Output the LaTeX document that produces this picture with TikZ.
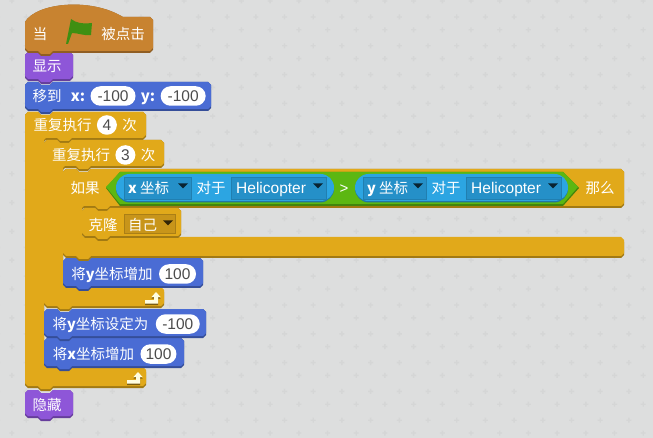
\documentclass[tikz,border=0pt]{standalone}
\usepackage{fontspec}
\setmainfont{Noto Sans CJK SC}
\newfontfamily\latinfont{Liberation Sans}
\usepackage{xcolor}
\usetikzlibrary{positioning, shapes.misc, shapes.geometric}

\definecolor{pagegray}{HTML}{DDDEDE}
\definecolor{plusgray}{HTML}{D5D6D6}
\definecolor{hatorange}{HTML}{C88330}
\definecolor{looksviolet}{HTML}{8E56D8}
\definecolor{motionblue}{HTML}{4A6CD4}
\definecolor{ctrlyellow}{HTML}{E1A91A}
\definecolor{opgreen}{HTML}{5CB712}
\definecolor{sensecyan}{HTML}{2CA5E2}
\definecolor{sensemenu}{HTML}{2590C8}
\definecolor{ctrlmenu}{HTML}{C8951A}
\definecolor{flaggreen}{HTML}{3F8F12}

% stack block: x1, y1, x2, y2, colour
\newcommand{\stackblock}[5]{
  \def\blockpath##1{(#1,#2+3) -- (#1+3,#2) -- (#1+13,#2) -- (#1+16,#2+3) -- (#1+25,#2+3) -- (#1+28,#2)
    -- (#3-3,#2) -- (#3,#2+3) -- (#3,#4-3+##1) -- (#3-3,#4+##1) -- (#1+28,#4+##1) -- (#1+25,#4+3+##1) -- (#1+16,#4+3+##1)
    -- (#1+13,#4+##1) -- (#1+3,#4+##1) -- (#1,#4-3+##1) -- cycle}
  \fill[#5!72!black] \blockpath{0};
  \fill[#5] \blockpath{-2};
}
% loop block: x1, y1, x2, head bottom, cap top, y3
\newcommand{\loopblock}[6]{
  \def\looppath##1{(#1,#2+3) -- (#1+3,#2) -- (#1+13,#2) -- (#1+16,#2+3) -- (#1+25,#2+3) -- (#1+28,#2)
    -- (#3-3,#2) -- (#3,#2+3) -- (#3,#4-3+##1) -- (#3-3,#4+##1) -- (#1+47,#4+##1) -- (#1+44,#4+3+##1) -- (#1+35,#4+3+##1)
    -- (#1+32,#4+##1) -- (#1+21,#4+##1) -- (#1+19,#4+2+##1) -- (#1+19,#5-2+##1) -- (#1+21,#5+##1)
    -- (#3-3,#5+##1) -- (#3,#5+3+##1) -- (#3,#6-3+##1) -- (#3-3,#6+##1) -- (#1+28,#6+##1) -- (#1+25,#6+3+##1) -- (#1+16,#6+3+##1)
    -- (#1+13,#6+##1) -- (#1+3,#6+##1) -- (#1,#6-3+##1) -- cycle}
  \fill[ctrlyellow!72!black] \looppath{0};
  \fill[ctrlyellow] \looppath{-2};
}
% return arrow of a loop: shaft x, line y
\newcommand{\looparrow}[2]{
  \fill[ctrlyellow!55!black] (#1-11,#2-0.5) -- (#1-2,#2-0.5) -- (#1-2,#2-3.5) -- (#1-4.5,#2-3.5) -- (#1,#2-8.5) -- (#1+4.5,#2-3.5) -- (#1+2,#2-3.5) -- (#1+2,#2+3) -- (#1-11,#2+3) -- cycle;
  \fill[yellow!12!white] (#1-11,#2-2) -- (#1-2,#2-2) -- (#1-2,#2-5) -- (#1-4.5,#2-5) -- (#1,#2-10) -- (#1+4.5,#2-5) -- (#1+2,#2-5) -- (#1+2,#2+1.5) -- (#1-11,#2+1.5) -- cycle;
}

\tikzset{
  lbl/.style={inner sep=0pt, text=white, font=\fontsize{14.5}{15}\selectfont, text height=12pt, text depth=1pt, anchor=center},
  axis/.style={lbl, font=\fontsize{15}{15}\selectfont\bfseries},
  pill/.style={rounded rectangle, fill=white, inner sep=0pt, minimum height=19.5pt, text=black!70, text height=11pt, text depth=0pt, font=\fontsize{15.5}{15}\latinfont},
  menu/.style={inner sep=0pt, minimum height=22pt, fill=sensemenu, draw=sensemenu!88!black, line width=0.8pt},
  tip/.style={isosceles triangle, isosceles triangle apex angle=90, shape border rotate=-90, fill=#1, inner sep=0pt, minimum size=6pt, minimum height=5pt}
}

\begin{document}
\begin{tikzpicture}[x=1pt, y=-1pt]

\useasboundingbox (0,0) rectangle (653,438);
\fill[pagegray] (0,0) rectangle (653,438);
\foreach \col in {0,...,23}
  \foreach \row in {0,...,15} {
    \fill[plusgray] (-2.5+\col*28.7-2.5,17+\row*28.8-0.7) rectangle ++(5,1.4) (-2.5+\col*28.7-0.7,17+\row*28.8-2.5) rectangle ++(1.4,5);
    \fill[plusgray] (11.8+\col*28.7-2.5,1+\row*28.8-0.7) rectangle ++(5,1.4) (11.8+\col*28.7-0.7,1+\row*28.8-2.5) rectangle ++(1.4,5);
  }

% blocks, lowest first
\stackblock{25}{390}{73}{418}{looksviolet}
\loopblock{25}{112}{146}{140}{369}{388}
\stackblock{44}{338}{184}{368}{motionblue}
\stackblock{44}{309}{206}{338}{motionblue}
\loopblock{44}{140}{164}{168}{289}{308}
\stackblock{63}{258}{203}{288}{motionblue}
\loopblock{63}{169}{624}{208}{239}{258}
\stackblock{82}{208}{181}{238}{ctrlyellow}
\stackblock{25}{82}{211}{111}{motionblue}
\stackblock{25}{52}{73}{81}{looksviolet}

% hat
\fill[hatorange!72!black] (25,22) .. controls (36,3) and (90,-3) .. (123,17) -- (150,17) -- (153,20) -- (153,50) -- (150,53) -- (53,53) -- (50,56) -- (41,56) -- (38,53) -- (28,53) -- (25,50) -- cycle;
\fill[hatorange] (25,22) .. controls (36,3) and (90,-3) .. (123,17) -- (150,17) -- (153,20) -- (153,48) -- (150,51) -- (53,51) -- (50,54) -- (41,54) -- (38,51) -- (28,51) -- (25,48) -- cycle;
\fill[flaggreen] (66,44) -- (71,19) .. controls (76,23) and (82,24) .. (92,23) -- (91,35) .. controls (84,36) and (78,33) .. (72,33) -- (68,44) -- cycle;

\looparrow{156}{302}
\looparrow{138}{382}

% labels
\node[lbl] (whenlbl) at (40,34) {当};
\node[lbl] (clicklbl) at (123,34) {被点击};
\node[lbl] (showlbl) at (47,66) {显示};

\node[lbl] (movelbl) at (47,96) {移到};
\node[axis, right=9pt of movelbl] (movex) {x:};
\node[pill, minimum width=45pt, right=5pt of movex] (movexval) {-100};
\node[axis, right=5pt of movexval] (movey) {y:};
\node[pill, minimum width=45pt, right=5pt of movey] (moveyval) {-100};

\node[lbl] (outerlbl) at (62.5,125) {重复执行};
\node[pill, minimum width=20pt, right=5pt of outerlbl] (outerval) {4};
\node[lbl, right=5pt of outerval] (outertimes) {次};

\node[lbl] (innerlbl) at (81,155) {重复执行};
\node[pill, minimum width=20pt, right=5pt of innerlbl] (innerval) {3};
\node[lbl, right=5pt of innerval] (innertimes) {次};

% condition
\fill[opgreen!72!black] (106,188) -- (120,172) -- (563,172) -- (579,188) -- (563,206) -- (120,206) -- cycle;
\fill[opgreen] (106,187) -- (120,172) -- (563,172) -- (578,187) -- (563,204) -- (120,204) -- cycle;
\node[rounded rectangle, fill=sensecyan!72!black, inner sep=0pt, minimum width=218pt, minimum height=28pt] (leftshade) at (225,188.5) {};
\node[rounded rectangle, fill=sensecyan!72!black, inner sep=0pt, minimum width=213pt, minimum height=28pt] (rightshade) at (461.5,188.5) {};
\node[rounded rectangle, fill=sensecyan, inner sep=0pt, minimum width=218pt, minimum height=27pt] (leftrep) at (225,187.5) {};
\node[rounded rectangle, fill=sensecyan, inner sep=0pt, minimum width=213pt, minimum height=27pt] (rightrep) at (461.5,187.5) {};

\node[lbl] (iflbl) at (85,188) {如果};
\node[menu, minimum width=67pt] (xmenu) at (157.5,188) {};
\node[lbl, anchor=west] (xlbl) at (128,188) {\textbf{x} 坐标};
\node[tip=black!75!sensemenu] (xtip) at (183,185.5) {};
\node[lbl] (ofa) at (211,188) {对于};
\node[menu, minimum width=95pt] (amenu) at (278.5,188) {};
\node[lbl, anchor=west, font=\fontsize{15.5}{15}\latinfont] (aname) at (236,188) {Helicopter};
\node[tip=black!75!sensemenu] (atip) at (318,185.5) {};
\node[lbl, font=\fontsize{15}{15}\latinfont] (gtlbl) at (344,188) {>};
\node[menu, minimum width=63pt] (ymenu) at (394.5,188) {};
\node[lbl, anchor=west] (ylbl) at (367,188) {\textbf{y} 坐标};
\node[tip=black!75!sensemenu] (ytip) at (418,185.5) {};
\node[lbl] (ofb) at (446,188) {对于};
\node[menu, minimum width=95pt] (bmenu) at (513.5,188) {};
\node[lbl, anchor=west, font=\fontsize{15.5}{15}\latinfont] (bname) at (471,188) {Helicopter};
\node[tip=black!75!sensemenu] (btip) at (553,185.5) {};
\node[lbl] (thenlbl) at (600,188) {那么};

\node[lbl] (clonelbl) at (103,225) {克隆};
\node[menu, fill=ctrlmenu, draw=ctrlmenu!85!black, minimum width=51pt, minimum height=19pt] (clonemenu) at (149.5,224) {};
\node[lbl, anchor=west] (selflbl) at (128,225) {自己};
\node[tip=black!75!ctrlmenu] (clonetip) at (168,222.5) {};

\node[lbl] (addylbl) at (112,274) {将\textbf{y}坐标增加};
\node[pill, minimum width=37pt, right=6pt of addylbl] (addyval) {100};
\node[lbl] (setylbl) at (100.5,324) {将\textbf{y}坐标设定为};
\node[pill, minimum width=44pt, right=7pt of setylbl] (setyval) {-100};
\node[lbl] (addxlbl) at (93.5,354) {将\textbf{x}坐标增加};
\node[pill, minimum width=36pt, right=6pt of addxlbl] (addxval) {100};
\node[lbl] (hidelbl) at (47,405) {隐藏};

\end{tikzpicture}
\end{document}
